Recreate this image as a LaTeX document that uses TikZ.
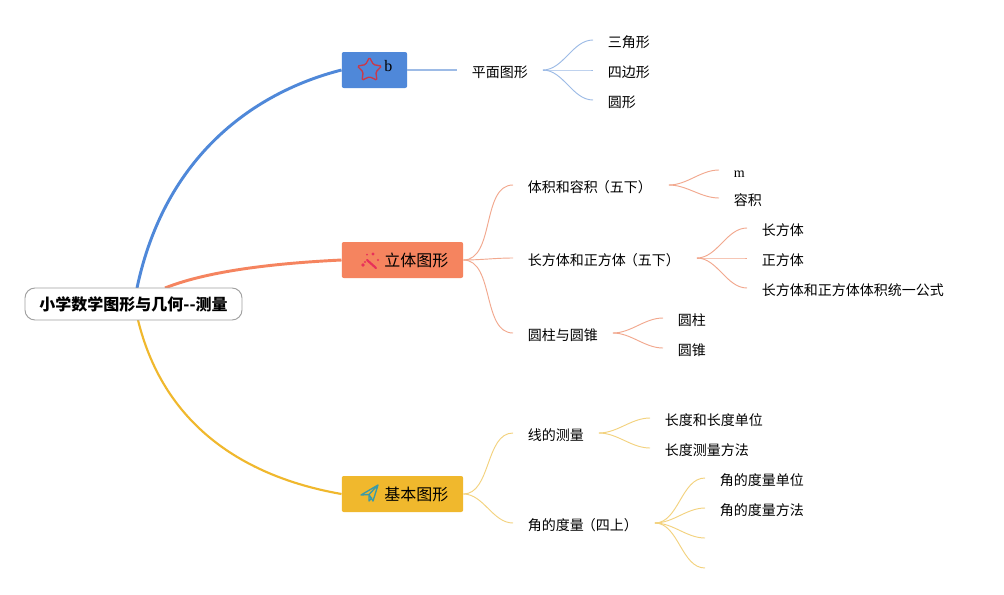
\documentclass[tikz,border=0pt]{standalone}
\usepackage{fontspec}
\setmainfont{Liberation Serif}
\newfontfamily\cjk{Noto Sans CJK SC}
\usetikzlibrary{shapes.geometric,positioning}
\definecolor{bluebranch}{HTML}{4F88D9}
\definecolor{orangebranch}{HTML}{F5845F}
\definecolor{yellowbranch}{HTML}{F0B82D}
\definecolor{bluefan}{HTML}{9DBBE6}
\definecolor{orangefan}{HTML}{F2A88E}
\definecolor{yellowfan}{HTML}{F3D27E}
\definecolor{rootline}{HTML}{A0A0A0}
\definecolor{staricon}{HTML}{C9394A}
\definecolor{wandicon}{HTML}{E8305A}
\definecolor{planeicon}{HTML}{3A9AA8}
\tikzset{
  rootnode/.style={draw=rootline,line width=0.7pt,fill=white,rounded corners=7.5pt,minimum width=162.75pt,minimum height=24pt,inner sep=0pt,font=\cjk\bfseries\fontsize{12}{14}\selectfont},
  mainbox/.style={anchor=west,rounded corners=1.5pt,minimum height=27pt,inner sep=0pt},
  boxlabel/.style={anchor=west,inner sep=0pt,font=\cjk\fontsize{12}{14}\selectfont},
  topic/.style={anchor=west,inner xsep=11pt,inner ysep=0pt,text height=12.2pt,text depth=1pt,font=\cjk\fontsize{10.5}{13}\selectfont},
  branch/.style={line width=2.2pt},
  fan/.style={line width=0.7pt,out=0,in=180,looseness=0.9}
}
\begin{document}
\begin{tikzpicture}[x=0.75pt,y=-0.75pt]
\useasboundingbox (0,0) rectangle (1004,594);
\fill[white] (0,0) rectangle (1004,594);
% main boxes
\node[mainbox,fill=bluebranch,minimum width=49pt] (plane) at (341.5,70) {};
\node[mainbox,fill=orangebranch,minimum width=91pt] (solid) at (341.5,260) {};
\node[mainbox,fill=yellowbranch,minimum width=91pt] (basic) at (341.5,494) {};
\node[boxlabel,font=\fontsize{12}{14}\selectfont] (planetext) at (384,66) {b};
\node[boxlabel] (solidtext) at (384,260) {立体图形};
\node[boxlabel] (basictext) at (384,494) {基本图形};
% root
\coordinate (blueout) at (137,288);
\coordinate (orangeout) at (165,288);
\coordinate (yellowout) at (138,320);
\draw[branch,bluebranch] (blueout) .. controls (165,155) and (255,92) .. (plane.west);
\draw[branch,orangebranch] (orangeout) .. controls (210,270) and (280,263) .. (solid.west);
\draw[branch,yellowbranch,line width=1.6pt] (yellowout) .. controls (165,430) and (250,478) .. (basic.west);
\node[rootnode] (root) at (133.5,304) {小学数学图形与几何--测量};
% icons
\node[star,star points=5,star point ratio=1.9,draw=staricon,line width=1pt,rounded corners=1pt,minimum size=19pt,inner sep=0pt] (starmark) at (369.5,70) {};
\draw[line width=1.6pt,wandicon,line cap=round] (367,260) -- (376,268);
\fill[wandicon] (373,254) circle (1.6) (378,260) circle (1.2) (363,265) circle (1.8) (367,254.5) circle (1) (365,262) circle (1.2);
\draw[line width=1pt,planeicon,line join=round] (378,485) -- (361,495) -- (369,494.5) -- (378,485) -- (373,501) -- (369,494.5) -- (369,501) -- (372,497.5);
% topics
\node[topic] (flat) at (457,70) {平面图形};
\node[topic] (volume) at (513,185) {体积和容积\kern-1.5pt（五下）\kern1.5pt};
\node[topic] (cuboid) at (513,258) {长方体和正方体\kern-1.5pt（五下）\kern1.5pt};
\node[topic] (cylinder) at (513,333) {圆柱与圆锥};
\node[topic] (linemeasure) at (513,433) {线的测量};
\node[topic] (anglemeasure) at (513,523) {角的度量\kern-1.5pt（四上）\kern1.5pt};
% leaves
\node[topic] (triangle) at (593,40) {三角形};
\node[topic] (quad) at (593,70) {四边形};
\node[topic] (round) at (593,100) {圆形};
\node[topic,font=\fontsize{10.5}{13}\selectfont] (m) at (719,170) {m};
\node[topic] (capacity) at (719,198) {容积};
\node[topic] (cuboidleaf) at (747,228) {长方体};
\node[topic] (cube) at (747,258) {正方体};
\node[topic] (formula) at (747,288) {长方体和正方体体积统一公式};
\node[topic] (cyl) at (663,318) {圆柱};
\node[topic] (cone) at (663,348) {圆锥};
\node[topic] (lengthunit) at (650,418) {长度和长度单位};
\node[topic] (lengthway) at (650,448) {长度测量方法};
\node[topic] (angleunit) at (705,478) {角的度量单位};
\node[topic] (angleway) at (705,508) {角的度量方法};
\coordinate (blankone) at (705,538);
\coordinate (blanktwo) at (705,568);
% connectors
\draw[bluefan,line width=1.1pt] (plane.east) -- (flat.west);
\foreach \a/\b in {flat/triangle,flat/quad,flat/round}
  \draw[fan,bluefan] (\a.east) to (\b.west);
\foreach \a/\b in {solid/volume,solid/cuboid,solid/cylinder,volume/m,volume/capacity,cuboid/cuboidleaf,cuboid/cube,cuboid/formula,cylinder/cyl,cylinder/cone}
  \draw[fan,orangefan] (\a.east) to (\b.west);
\foreach \a/\b in {basic/linemeasure,basic/anglemeasure,linemeasure/lengthunit,linemeasure/lengthway,anglemeasure/angleunit,anglemeasure/angleway}
  \draw[fan,yellowfan] (\a.east) to (\b.west);
\draw[fan,yellowfan] (anglemeasure.east) to (blankone);
\draw[fan,yellowfan] (anglemeasure.east) to (blanktwo);
\end{tikzpicture}
\end{document}
